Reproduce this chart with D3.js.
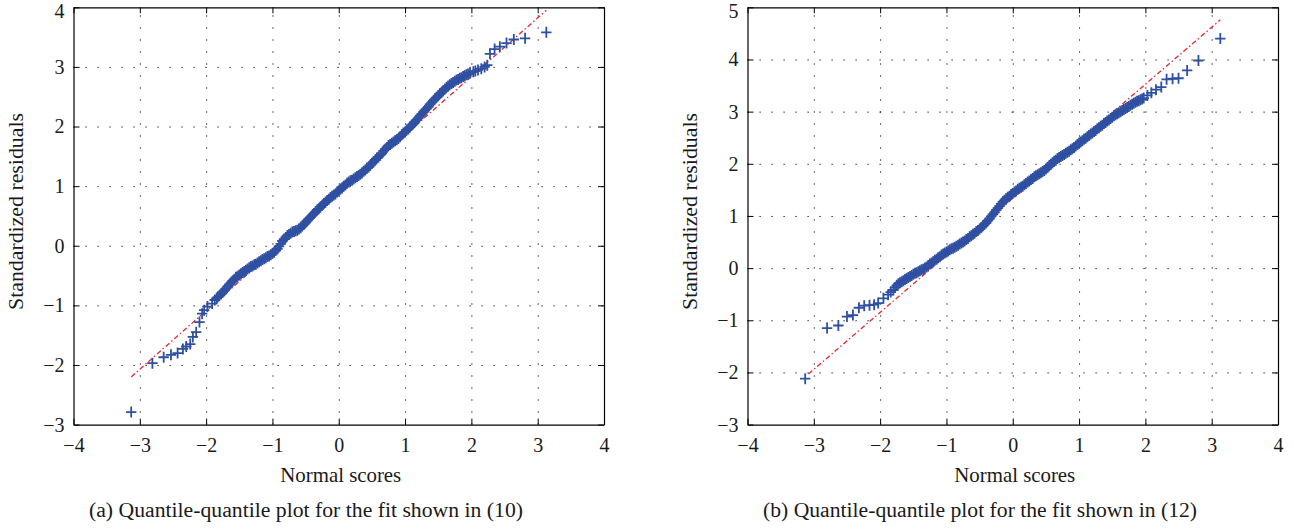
<!DOCTYPE html>
<html>
<head>
<meta charset="utf-8">
<script src="https://cdn.jsdelivr.net/npm/d3@7"></script>
<style>
  body { margin: 0; background: #fff; }
  text { font-family: "Liberation Serif", "DejaVu Serif", serif; fill: #1a1a1a; }
</style>
</head>
<body>
<svg id="chart"></svg>
<script>
/* Q-Q plots of standardized residuals against normal scores */

const xTicks = [-4, -3, -2, -1, 0, 1, 2, 3, 4];
const yTicksA = [-3, -2, -1, 0, 1, 2, 3, 4];
const yTicksB = [-3, -2, -1, 0, 1, 2, 3, 4, 5];

const xLabel = 'Normal scores';
const yLabel = 'Standardized residuals';
const captions = [
  '(a)  Quantile-quantile plot for the fit shown in  (10)',
  '(b)  Quantile-quantile plot for the fit shown in  (12)'
];

// reference lines, two end points each [score, residual]
const lineA = [[-3.13, -2.20], [3.13, 3.95]];
const lineB = [[-3.08, -2.03], [3.13, 4.76]];

// panel (a): [normal score, standardized residual]
const qqA = [
  [-3.13,-2.79],[-2.81,-1.97],[-2.64,-1.87],[-2.53,-1.83],[-2.43,-1.80],[-2.35,-1.73],
  [-2.30,-1.69],[-2.24,-1.65],[-2.20,-1.53],[-2.15,-1.45],[-2.10,-1.28],[-2.06,-1.14],
  [-2.03,-1.08],[-1.98,-1.02],[-1.91,-0.97],[-1.87,-0.91],[-1.84,-0.88],
  [-1.825,-0.86],[-1.800,-0.84],[-1.775,-0.81],[-1.750,-0.78],[-1.725,-0.75],[-1.700,-0.72],
  [-1.675,-0.68],[-1.650,-0.65],[-1.625,-0.62],[-1.600,-0.59],[-1.575,-0.56],[-1.550,-0.53],
  [-1.525,-0.51],[-1.500,-0.49],[-1.475,-0.47],[-1.450,-0.45],[-1.425,-0.43],[-1.400,-0.41],
  [-1.375,-0.39],[-1.350,-0.37],[-1.325,-0.35],[-1.300,-0.34],[-1.275,-0.32],[-1.250,-0.31],
  [-1.225,-0.29],[-1.200,-0.27],[-1.175,-0.25],[-1.150,-0.23],[-1.125,-0.22],[-1.100,-0.20],
  [-1.075,-0.18],[-1.050,-0.17],[-1.025,-0.15],[-1.000,-0.13],[-0.975,-0.11],[-0.950,-0.08],
  [-0.925,-0.05],[-0.900,-0.01],[-0.875,0.03],[-0.850,0.08],[-0.825,0.11],[-0.800,0.14],
  [-0.775,0.17],[-0.750,0.19],[-0.725,0.21],[-0.700,0.23],[-0.675,0.24],[-0.650,0.25],
  [-0.625,0.26],[-0.600,0.28],[-0.575,0.30],[-0.550,0.33],[-0.525,0.36],[-0.500,0.39],
  [-0.475,0.42],[-0.450,0.45],[-0.425,0.48],[-0.400,0.51],[-0.375,0.54],[-0.350,0.57],
  [-0.325,0.60],[-0.300,0.62],[-0.275,0.65],[-0.250,0.68],[-0.225,0.71],[-0.200,0.73],
  [-0.175,0.76],[-0.150,0.78],[-0.125,0.81],[-0.100,0.83],[-0.075,0.85],[-0.050,0.87],
  [-0.025,0.90],[0.000,0.92],[0.025,0.95],[0.050,0.97],[0.075,1.00],[0.100,1.02],
  [0.125,1.05],[0.150,1.07],[0.175,1.09],[0.200,1.10],[0.225,1.12],[0.250,1.14],
  [0.275,1.16],[0.300,1.18],[0.325,1.20],[0.350,1.22],[0.375,1.25],[0.400,1.27],
  [0.425,1.30],[0.450,1.32],[0.475,1.35],[0.500,1.38],[0.525,1.41],[0.550,1.44],
  [0.575,1.47],[0.600,1.49],[0.625,1.52],[0.650,1.55],[0.675,1.59],[0.700,1.62],
  [0.725,1.65],[0.750,1.68],[0.775,1.70],[0.800,1.72],[0.825,1.74],[0.850,1.76],
  [0.875,1.78],[0.900,1.80],[0.925,1.83],[0.950,1.86],[0.975,1.89],[1.000,1.91],
  [1.025,1.94],[1.050,1.96],[1.075,1.99],[1.100,2.02],[1.125,2.05],[1.150,2.08],
  [1.175,2.11],[1.200,2.14],[1.225,2.18],[1.250,2.21],[1.275,2.24],[1.300,2.27],
  [1.325,2.30],[1.350,2.33],[1.375,2.37],[1.400,2.40],[1.425,2.43],[1.450,2.46],
  [1.475,2.49],[1.500,2.52],[1.525,2.55],[1.550,2.57],[1.575,2.60],[1.600,2.63],
  [1.625,2.66],[1.650,2.68],[1.675,2.70],[1.700,2.72],[1.725,2.74],[1.750,2.76],
  [1.775,2.78],[1.800,2.79],[1.825,2.81],[1.850,2.82],[1.875,2.84],[1.900,2.85],
  [1.925,2.87],[1.950,2.88],
  [1.98,2.90],[2.03,2.92],[2.06,2.93],[2.10,2.95],[2.15,2.97],[2.20,3.00],[2.24,3.03],
  [2.28,3.22],[2.35,3.30],[2.43,3.34],[2.53,3.40],[2.64,3.46],[2.81,3.48],[3.13,3.58]
];

// panel (b)
const qqB = [
  [-3.13,-2.12],[-2.80,-1.15],[-2.63,-1.10],[-2.50,-0.93],[-2.41,-0.90],[-2.32,-0.76],
  [-2.24,-0.72],[-2.16,-0.71],[-2.09,-0.70],[-2.03,-0.67],[-1.95,-0.58],[-1.88,-0.51],
  [-1.84,-0.46],[-1.80,-0.42],
  [-1.775,-0.37],[-1.750,-0.33],[-1.725,-0.30],[-1.700,-0.28],[-1.675,-0.26],[-1.650,-0.24],
  [-1.625,-0.22],[-1.600,-0.20],[-1.575,-0.18],[-1.550,-0.16],[-1.525,-0.14],[-1.500,-0.12],
  [-1.475,-0.10],[-1.450,-0.09],[-1.425,-0.07],[-1.400,-0.05],[-1.375,-0.03],[-1.350,-0.02],
  [-1.325,0.00],[-1.300,0.02],[-1.275,0.05],[-1.250,0.08],[-1.225,0.10],[-1.200,0.12],
  [-1.175,0.15],[-1.150,0.17],[-1.125,0.20],[-1.100,0.22],[-1.075,0.25],[-1.050,0.27],
  [-1.025,0.29],[-1.000,0.31],[-0.975,0.33],[-0.950,0.35],[-0.925,0.37],[-0.900,0.38],
  [-0.875,0.40],[-0.850,0.42],[-0.825,0.44],[-0.800,0.46],[-0.775,0.48],[-0.750,0.50],
  [-0.725,0.52],[-0.700,0.55],[-0.675,0.57],[-0.650,0.60],[-0.625,0.62],[-0.600,0.65],
  [-0.575,0.67],[-0.550,0.70],[-0.525,0.72],[-0.500,0.75],[-0.475,0.78],[-0.450,0.81],
  [-0.425,0.84],[-0.400,0.87],[-0.375,0.91],[-0.350,0.95],[-0.325,0.99],[-0.300,1.03],
  [-0.275,1.07],[-0.250,1.11],[-0.225,1.15],[-0.200,1.19],[-0.175,1.23],[-0.150,1.27],
  [-0.125,1.30],[-0.100,1.33],[-0.075,1.36],[-0.050,1.38],[-0.025,1.41],[0.000,1.43],
  [0.025,1.46],[0.050,1.48],[0.075,1.51],[0.100,1.53],[0.125,1.55],[0.150,1.57],
  [0.175,1.60],[0.200,1.62],[0.225,1.65],[0.250,1.67],[0.275,1.70],[0.300,1.72],
  [0.325,1.75],[0.350,1.77],[0.375,1.79],[0.400,1.81],[0.425,1.83],[0.450,1.85],
  [0.475,1.87],[0.500,1.90],[0.525,1.93],[0.550,1.96],[0.575,1.99],[0.600,2.02],
  [0.625,2.05],[0.650,2.07],[0.675,2.10],[0.700,2.12],[0.725,2.14],[0.750,2.16],
  [0.775,2.18],[0.800,2.20],[0.825,2.22],[0.850,2.24],[0.875,2.27],[0.900,2.29],
  [0.925,2.31],[0.950,2.34],[0.975,2.37],[1.000,2.40],[1.025,2.42],[1.050,2.44],
  [1.075,2.47],[1.100,2.49],[1.125,2.52],[1.150,2.54],[1.175,2.57],[1.200,2.59],
  [1.225,2.62],[1.250,2.64],[1.275,2.67],[1.300,2.69],[1.325,2.72],[1.350,2.74],
  [1.375,2.77],[1.400,2.79],[1.425,2.82],[1.450,2.84],[1.475,2.87],[1.500,2.89],
  [1.525,2.92],[1.550,2.94],[1.575,2.96],[1.600,2.98],[1.625,3.00],[1.650,3.02],
  [1.675,3.04],[1.700,3.06],[1.725,3.08],[1.750,3.10],[1.775,3.12],[1.800,3.14],
  [1.825,3.16],[1.850,3.18],[1.875,3.20],[1.900,3.21],[1.925,3.23],[1.950,3.24],
  [1.975,3.26],
  [2.03,3.31],[2.09,3.36],[2.16,3.42],[2.24,3.47],[2.32,3.62],[2.41,3.63],[2.50,3.64],
  [2.63,3.79],[2.80,3.98],[3.13,4.40]
];

const W = 1294, H = 529;
const plotTop = 7.3, plotBottom = 424.6;

const svg = d3.select('#chart').attr('width', W).attr('height', H);
svg.append('rect').attr('width', W).attr('height', H).attr('fill', '#fff');

const translate = (x, y) => `translate(${x}, ${y})`;
const minus = d => d3.format('')(d).replace('-', '\u2212');

const drawPanel = (p) => {
  const w = p.right - p.left;
  const h = plotBottom - plotTop;
  const g = svg.append('g').attr('transform', translate(p.left, plotTop));

  const x = d3.scaleLinear().domain([-4, 4]).range([0, w]);
  const y = d3.scaleLinear().domain(d3.extent(p.yTicks)).range([h, 0]);

  // dotted grid
  const gridStyle = sel => sel.selectAll('line')
    .attr('stroke', '#000').attr('stroke-width', 1)
    .attr('stroke-dasharray', '1.2,10.8');
  g.append('g').attr('transform', translate(0, h))
    .call(d3.axisBottom(x).tickValues(xTicks.slice(1, -1)).tickSize(-h).tickFormat(''))
    .call(a => a.select('.domain').remove())
    .call(gridStyle);
  g.append('g')
    .call(d3.axisLeft(y).tickValues(p.yTicks.slice(1, -1)).tickSize(-w).tickFormat(''))
    .call(a => a.select('.domain').remove())
    .call(gridStyle);

  // reference line
  g.append('path')
    .datum(p.line)
    .attr('d', d3.line().x(d => x(d[0])).y(d => y(d[1])))
    .attr('fill', 'none')
    .attr('stroke', '#e8262c')
    .attr('stroke-width', 1.3)
    .attr('stroke-dasharray', '5,2.5,1.5,2.5');

  // + markers
  g.append('g').selectAll('path')
    .data(p.points)
    .join('path')
    .attr('transform', d => translate(x(d[0]), y(d[1])))
    .attr('d', 'M-5.2,0H5.2M0,-5.5V5.5')
    .attr('fill', 'none')
    .attr('stroke', '#2f4fa2')
    .attr('stroke-width', 1.8);

  // axes with inward ticks on all four sides
  const axisStyle = a => {
    a.attr('font-size', 20).attr('font-family', '"Liberation Serif", serif');
    a.select('.domain').attr('stroke', '#000').attr('stroke-width', 1.2);
    a.selectAll('.tick line').attr('stroke', '#000').attr('stroke-width', 1);
    a.selectAll('text').attr('fill', '#1a1a1a');
  };
  g.append('g').attr('transform', translate(0, h))
    .call(d3.axisBottom(x).tickValues(xTicks).tickSizeInner(-6).tickSizeOuter(0)
      .tickPadding(13).tickFormat(minus))
    .call(axisStyle);
  g.append('g')
    .call(d3.axisLeft(y).tickValues(p.yTicks).tickSizeInner(-6).tickSizeOuter(0)
      .tickPadding(9).tickFormat(minus))
    .call(axisStyle)
    .call(a => a.selectAll('text').filter(d => d === d3.max(p.yTicks)).attr('dy', '0.5em'));
  g.append('g')
    .call(d3.axisTop(x).tickValues(xTicks).tickSizeInner(-6).tickSizeOuter(0).tickFormat(''))
    .call(axisStyle);
  g.append('g').attr('transform', translate(w, 0))
    .call(d3.axisRight(y).tickValues(p.yTicks).tickSizeInner(-6).tickSizeOuter(0).tickFormat(''))
    .call(axisStyle);

  // labels
  g.append('text')
    .attr('x', w / 2 + 2).attr('y', h + 57.4)
    .attr('text-anchor', 'middle')
    .style('font-size', '21px')
    .attr('textLength', 121).attr('lengthAdjust', 'spacingAndGlyphs')
    .text(xLabel);
  g.append('text')
    .attr('transform', `translate(${p.yLabelX - p.left}, ${211.5 - plotTop}) rotate(-90)`)
    .attr('text-anchor', 'middle')
    .style('font-size', '21px')
    .attr('textLength', 197).attr('lengthAdjust', 'spacingAndGlyphs')
    .text(yLabel);

  svg.append('text')
    .attr('x', p.captionX).attr('y', 516.5)
    .style('font-size', '20px')
    .attr('textLength', 434).attr('lengthAdjust', 'spacingAndGlyphs')
    .text(p.caption);
};

drawPanel({
  left: 73.5, right: 604, yTicks: yTicksA, points: qqA, line: lineA,
  yLabelX: 22.5, caption: captions[0], captionX: 89
});
drawPanel({
  left: 747.5, right: 1278, yTicks: yTicksB, points: qqB, line: lineB,
  yLabelX: 696.5, caption: captions[1], captionX: 763
});
</script>
</body>
</html>
